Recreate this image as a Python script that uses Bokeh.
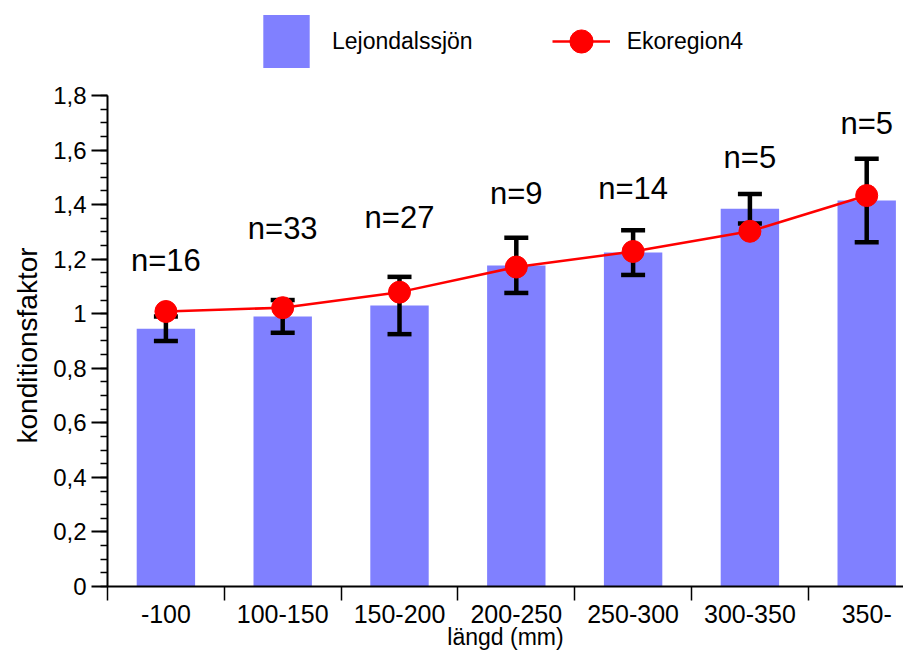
from bokeh.plotting import figure
from bokeh.models import (Range1d, FixedTicker, CustomJSTickFormatter, ColumnDataSource,
                          Whisker, TeeHead, Legend, LegendItem, Title)
from bokeh.embed import file_html
from bokeh.resources import INLINE
from bokeh.core.properties import value

# ---- data ----
categories = ["-100", "100-150", "150-200", "200-250", "250-300", "300-350", "350-"]
lejondal = [0.945, 0.99, 1.03, 1.177, 1.224, 1.385, 1.415]
lejondal_err = [0.045, 0.06, 0.105, 0.101, 0.082, 0.054, 0.153]
ekoregion = [1.008, 1.022, 1.079, 1.171, 1.228, 1.302, 1.433]
n_labels = ["n=16", "n=33", "n=27", "n=9", "n=14", "n=5", "n=5"]
n_label_y = [1.195, 1.312, 1.353, 1.441, 1.459, 1.573, 1.697]
y_ticks = [0, 0.2, 0.4, 0.6, 0.8, 1.0, 1.2, 1.4, 1.6, 1.8]

FONT = "Liberation Sans"
centers = [i + 0.5 for i in range(len(categories))]
boundaries = [i for i in range(len(categories) + 1)]
minor_y = [round(i * 0.05, 2) for i in range(37)]

p = figure(width=903, height=652, output_backend="svg", toolbar_location=None,
           x_range=Range1d(0, 6.815), y_range=Range1d(0, 2.148),
           min_border_left=107, min_border_right=0, min_border_top=0, min_border_bottom=66)
p.outline_line_color = None
p.xgrid.visible = False
p.ygrid.visible = False

bars = p.vbar(x=centers, top=lejondal, width=0.5, fill_color="#8080FF", line_color=None)

err_src = ColumnDataSource(dict(x=centers,
                                upper=[v + e for v, e in zip(lejondal, lejondal_err)],
                                lower=[v - e for v, e in zip(lejondal, lejondal_err)]))
whisk = Whisker(base="x", upper="upper", lower="lower", source=err_src,
                line_width=4.5, line_color="black", level="annotation",
                upper_head=TeeHead(size=24, line_width=4.5, line_color="black"),
                lower_head=TeeHead(size=24, line_width=4.5, line_color="black"))
p.add_layout(whisk)

line_r = p.line(x=centers, y=ekoregion, line_color="#FF0000", line_width=2.5, level="overlay")
pts = p.scatter(x=centers, y=ekoregion, size=22, fill_color="#FF0000", line_color="#FF0000",
                level="overlay")

p.text(x=centers, y=n_label_y, text=n_labels, text_align="center", text_baseline="middle",
       text_font_size="31px", text_font=value(FONT), text_color="black")

# x axis
xa = p.xaxis[0]
xa.ticker = FixedTicker(ticks=centers, minor_ticks=boundaries)
xa.formatter = CustomJSTickFormatter(args=dict(labels=categories),
                                     code="return labels[Math.round(tick - 0.5)];")
xa.major_tick_line_color = None
xa.major_tick_out = 0
xa.major_tick_in = 0
xa.minor_tick_out = 14
xa.minor_tick_in = 0
xa.minor_tick_line_width = 1.5
xa.axis_line_width = 2
xa.major_label_standoff = 4
xa.major_label_text_font = FONT
xa.major_label_text_font_size = "25px"
xa.major_label_text_color = "black"
xa.axis_label = "längd (mm)"
xa.axis_label_text_font = FONT
xa.axis_label_text_font_size = "23px"
xa.axis_label_text_font_style = "normal"
xa.axis_label_text_color = "black"
xa.axis_label_standoff = -2

# y axis
ya = p.yaxis[0]
ya.bounds = (0, 1.8)
ya.ticker = FixedTicker(ticks=y_ticks, minor_ticks=minor_y)
ya.formatter = CustomJSTickFormatter(
    code="return (Math.round(tick*10)/10).toString().replace('.', ',');")
ya.major_tick_out = 16
ya.major_tick_in = 0
ya.minor_tick_out = 7
ya.minor_tick_in = 0
ya.major_tick_line_width = 2
ya.minor_tick_line_width = 1.5
ya.axis_line_width = 2
ya.major_label_standoff = 5
ya.major_label_text_font = FONT
ya.major_label_text_font_size = "24px"
ya.major_label_text_color = "black"

ytitle = Title(text="konditionsfaktor", align="left", offset=143, standoff=15,
               text_font=FONT, text_font_size="28px", text_font_style="normal",
               text_color="black")
p.add_layout(ytitle, "left")

legend = Legend(items=[LegendItem(label="Lejondalssjön", renderers=[bars]),
                       LegendItem(label="Ekoregion4", renderers=[line_r, pts])],
                orientation="horizontal", location=(150, 512),
                glyph_width=58, glyph_height=66, label_standoff=17, spacing=79,
                padding=0, margin=0, border_line_color=None, background_fill_alpha=0,
                label_text_font=FONT, label_text_font_size="23px", label_text_color="black")
p.add_layout(legend)

open("out.html", "w").write(file_html(p, INLINE))
